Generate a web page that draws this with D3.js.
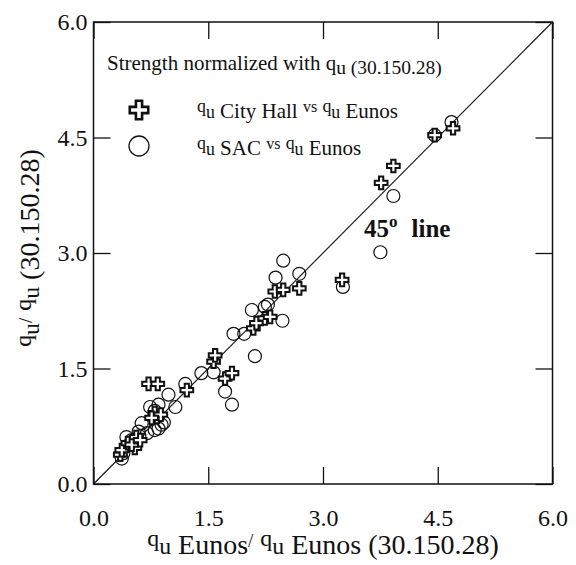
<!DOCTYPE html>
<html>
<head>
<meta charset="utf-8">
<script src="https://cdn.jsdelivr.net/npm/d3@7"></script>
<style>
  html, body { margin: 0; padding: 0; background: #fff; }
  svg { display: block; font-family: "Liberation Serif", "Times New Roman", serif; }
</style>
</head>
<body>
<svg id="chart" width="576" height="565"></svg>
<script>
// ---- Data ----
const tickValues = [0, 1.5, 3.0, 4.5, 6.0];
const cityHallX = [0.35, 0.37, 0.45, 0.54, 0.50, 0.56, 0.61, 0.72, 0.84, 0.83, 0.80, 0.88, 0.76, 1.22, 1.57, 1.59, 1.72, 1.81, 2.09, 2.13, 2.24, 2.31, 2.37, 2.48, 2.69, 3.25, 3.76, 3.92, 4.46, 4.70];
const cityHallY = [0.38, 0.44, 0.53, 0.47, 0.51, 0.61, 0.57, 1.30, 1.30, 0.87, 0.92, 0.90, 0.86, 1.22, 1.59, 1.67, 1.37, 1.44, 2.02, 2.09, 2.15, 2.17, 2.50, 2.52, 2.54, 2.65, 3.91, 4.13, 4.53, 4.62];
const sacX = [0.37, 0.39, 0.43, 0.50, 0.45, 0.59, 0.63, 0.70, 0.74, 0.80, 0.85, 0.89, 0.92, 0.85, 0.80, 0.98, 1.07, 1.20, 1.41, 1.57, 1.72, 1.81, 1.83, 1.97, 2.11, 2.07, 2.24, 2.28, 2.47, 2.38, 2.48, 2.69, 3.26, 3.75, 3.92, 4.46, 4.68, 0.60];
const sacY = [0.33, 0.40, 0.61, 0.57, 0.50, 0.68, 0.79, 0.66, 1.00, 0.70, 0.72, 0.77, 0.80, 1.03, 0.95, 1.16, 1.00, 1.30, 1.44, 1.45, 1.20, 1.03, 1.95, 1.95, 1.66, 2.26, 2.30, 2.33, 2.12, 2.68, 2.90, 2.73, 2.56, 3.01, 3.74, 4.53, 4.70, 0.62];
const lineXY = [0, 6];

// ---- Layout ----
const svg = d3.select("#chart");
const L = 93.5, R = 552.5, T = 22, B = 484;
const x = d3.scaleLinear().domain([0, 6]).range([L, R]);
const y = d3.scaleLinear().domain([0, 6]).range([B, T]);
const fmt = d3.format(".1f");
const TL = 17;

// axes
const gB = svg.append("g").attr("transform", `translate(0,${B})`)
  .call(d3.axisBottom(x).tickValues(tickValues).tickFormat(fmt).tickSizeInner(-TL).tickSizeOuter(0));
gB.selectAll("text").attr("y", 42).attr("dy", null);
const gL = svg.append("g").attr("transform", `translate(${L},0)`)
  .call(d3.axisLeft(y).tickValues(tickValues).tickFormat(fmt).tickSizeInner(-TL).tickSizeOuter(0).tickPadding(6));
const gT = svg.append("g").attr("transform", `translate(0,${T})`)
  .call(d3.axisTop(x).tickValues(tickValues).tickFormat("").tickSizeInner(-TL).tickSizeOuter(0));
const gR = svg.append("g").attr("transform", `translate(${R},0)`)
  .call(d3.axisRight(y).tickValues(tickValues).tickFormat("").tickSizeInner(-TL).tickSizeOuter(0));
[gB, gL, gT, gR].forEach(g => {
  g.attr("font-family", null);
  g.select(".domain").remove();
  g.selectAll("line").attr("stroke", "#111").attr("stroke-width", 1.3);
  g.selectAll("text").attr("font-family", "Liberation Serif").attr("font-size", 24).attr("fill", "#111");
});

// frame
svg.append("rect").attr("x", L).attr("y", T).attr("width", R - L).attr("height", B - T)
  .attr("fill", "none").attr("stroke", "#111").attr("stroke-width", 1.5);

// 45 degree line
svg.append("line")
  .attr("x1", x(lineXY[0])).attr("y1", y(lineXY[0]))
  .attr("x2", x(lineXY[1])).attr("y2", y(lineXY[1]))
  .attr("stroke", "#111").attr("stroke-width", 1.1);

// circles (SAC)
svg.append("g").selectAll("circle").data(sacX.map((v, i) => [v, sacY[i]])).join("circle")
  .attr("cx", d => x(d[0])).attr("cy", d => y(d[1])).attr("r", 6.5)
  .attr("fill", "none").attr("stroke", "#111").attr("stroke-width", 1.2);

// crosses (City Hall)
const crossPath = d3.symbol(d3.symbolCross, 90)();
svg.append("g").selectAll("path").data(cityHallX.map((v, i) => [v, cityHallY[i]])).join("path")
  .attr("d", crossPath)
  .attr("transform", d => `translate(${x(d[0])},${y(d[1])})`)
  .attr("fill", "#fff").attr("stroke", "#111").attr("stroke-width", 2);

// ---- Texts ----
function qu(sel, size) {
  sel.append("tspan").attr("font-size", size * 0.85).attr("dy", -size * 0.28).text("q");
  sel.append("tspan").attr("font-size", size * 0.85).attr("dy", size * 0.28).text("u");
}

// title inside plot
const t0 = svg.append("text").attr("x", 107).attr("y", 70).attr("font-size", 21).attr("fill", "#111");
t0.append("tspan").text("Strength normalized with q");
t0.append("tspan").attr("dy", 4).attr("font-size", 19.5).text("u (30.150.28)");

// legend
svg.append("path").attr("d", d3.symbol(d3.symbolCross, 190)())
  .attr("transform", "translate(139,110)")
  .attr("fill", "#fff").attr("stroke", "#111").attr("stroke-width", 2.6);
svg.append("circle").attr("cx", 139).attr("cy", 146).attr("r", 10)
  .attr("fill", "none").attr("stroke", "#111").attr("stroke-width", 1.3);

function legendLine(yb, name) {
  const t = svg.append("text").attr("x", 197).attr("y", yb).attr("font-size", 21).attr("fill", "#111");
  qu(t, 21);
  t.append("tspan").text(" " + name + "   ");
  t.append("tspan").attr("font-size", 16).attr("dy", -6).text("vs");
  t.append("tspan").attr("dy", 6).text("  ");
  qu(t, 21);
  t.append("tspan").text(" Eunos");
}
legendLine(118, "City Hall");
legendLine(155, "SAC");

// 45° line label
const t45 = svg.append("text").attr("x", 364).attr("y", 237).attr("font-size", 25)
  .attr("font-weight", "bold").attr("fill", "#111");
t45.append("tspan").text("45");
t45.append("tspan").attr("font-size", 17).attr("dy", -10).text("o");
t45.append("tspan").attr("dy", 10).attr("dx", 14).text("line");

// axis titles
const xt = svg.append("text").attr("x", 323).attr("y", 554).attr("text-anchor", "middle")
  .attr("font-size", 28).attr("fill", "#111");
qu(xt, 28);
xt.append("tspan").text(" Eunos");
xt.append("tspan").attr("dy", -7).attr("font-size", 19).text("/");
xt.append("tspan").attr("dy", 7).text(" ");
qu(xt, 28);
xt.append("tspan").text(" Eunos (30.150.28)");

const yt = svg.append("text").attr("transform", "translate(39,248) rotate(-90)")
  .attr("text-anchor", "middle").attr("font-size", 28).attr("fill", "#111");
qu(yt, 28);
yt.append("tspan").attr("dy", -7).attr("font-size", 19).text("/");
yt.append("tspan").attr("dy", 7).text(" ");
qu(yt, 28);
yt.append("tspan").text(" (30.150.28)");
</script>
</body>
</html>
